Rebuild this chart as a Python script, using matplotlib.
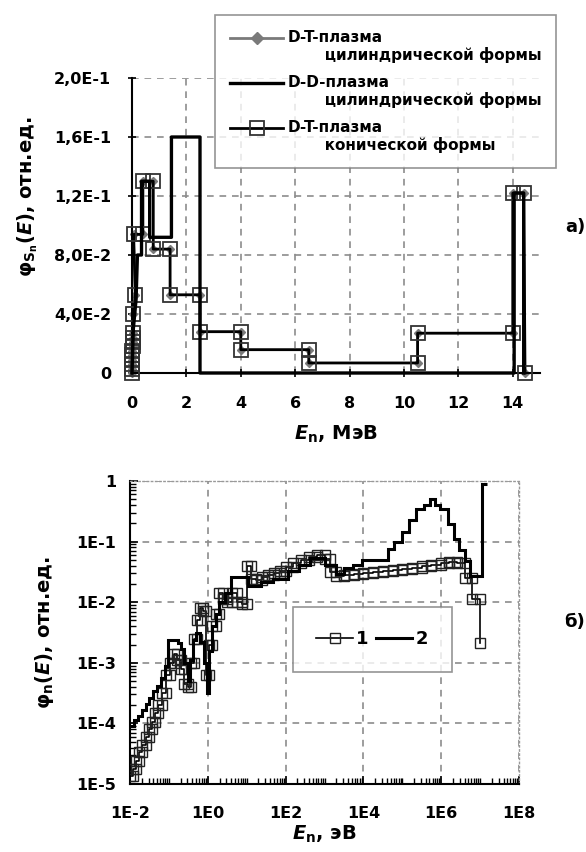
import numpy as np
import matplotlib
matplotlib.use("Agg")
import matplotlib.pyplot as plt
from matplotlib.ticker import FixedLocator, FuncFormatter, LogLocator, NullFormatter
from matplotlib.lines import Line2D
from matplotlib.legend_handler import HandlerLine2D

plt.rcParams['font.family'] = ['DejaVu Sans']
plt.rcParams['font.weight'] = 'bold'
plt.rcParams['axes.labelweight'] = 'bold'
plt.rcParams['mathtext.fontset'] = 'custom'
plt.rcParams['mathtext.rm'] = 'DejaVu Sans:bold'
plt.rcParams['mathtext.it'] = 'DejaVu Sans:italic:bold'
plt.rcParams['mathtext.bf'] = 'DejaVu Sans:bold'

# ---------------- data: panel a) (MeV, rel. units) ----------------
dt_con_E = [0.0, 0.0, 0.0, 0.01, 0.01, 0.01, 0.02, 0.02, 0.02, 0.03, 0.05, 0.12,
            0.06, 0.40, 0.40, 0.78, 0.78, 1.40, 1.40, 2.50, 2.50, 4.00, 4.00, 6.50,
            6.50, 10.50, 10.50, 14.00, 14.00, 14.40, 14.45]
dt_con_phi = [0.0, 0.003, 0.006, 0.009, 0.012, 0.015, 0.018, 0.021, 0.024, 0.027, 0.040, 0.053,
              0.094, 0.094, 0.130, 0.130, 0.084, 0.084, 0.053, 0.053, 0.028, 0.028, 0.0158, 0.0158,
              0.0068, 0.0068, 0.027, 0.027, 0.122, 0.122, 0.0]
dt_cyl_E = list(dt_con_E)
dt_cyl_phi = list(dt_con_phi)
dd_E = [0.0, 0.05, 0.15, 0.20, 0.35, 0.35, 0.65, 0.65, 1.45, 1.45, 2.50, 2.50, 14.05, 14.05, 14.40, 14.40]
dd_phi = [0.0, 0.030, 0.050, 0.080, 0.080, 0.130, 0.130, 0.092, 0.092, 0.160, 0.160, 0.0, 0.0, 0.122, 0.122, 0.0]

top_xticks = [0, 2, 4, 6, 8, 10, 12, 14]
top_yticks = [0.0, 0.04, 0.08, 0.12, 0.16, 0.20]
top_ylabels = ["0", "4,0E-2", "8,0E-2", "1,2E-1", "1,6E-1", "2,0E-1"]
legend_a = ["D-T-плазма\n       цилиндрической формы",
            "D-D-плазма\n       цилиндрической формы",
            "D-T-плазма\n       конической формы"]

# ---------------- data: panel б) (log10 E [eV], log10 phi) ----------------
s1_logE_edges = [-2.0, -1.92, -1.84, -1.76, -1.68, -1.6, -1.52, -1.44, -1.36, -1.28, -1.18, -1.08,
                 -0.98, -0.88, -0.78, -0.7, -0.62, -0.52, -0.44, -0.36, -0.28, -0.2, -0.12, -0.04,
                 0.04, 0.12, 0.2, 0.3, 0.4, 0.5, 0.62, 0.75, 0.88, 1.0, 1.12, 1.25, 1.4, 1.55,
                 1.7, 1.85, 2.0, 2.2, 2.4, 2.6, 2.8, 3.0, 3.15, 3.3, 3.5, 3.75, 4.0, 4.25, 4.5,
                 4.75, 5.0, 5.25, 5.5, 5.75, 6.0, 6.2, 6.4, 6.6, 6.8, 7.0]
s1_logphi = [-4.87, -4.75, -4.62, -4.48, -4.36, -4.22, -4.10, -3.97, -3.83, -3.70, -3.50, -3.20,
             -3.00, -2.85, -2.95, -3.10, -3.35, -3.40, -3.00, -2.60, -2.30, -2.10, -2.15, -3.20,
             -2.70, -2.40, -2.20, -1.85, -1.95, -2.00, -1.85, -2.00, -2.03, -1.40, -1.62, -1.64,
             -1.58, -1.55, -1.52, -1.48, -1.42, -1.36, -1.30, -1.25, -1.22, -1.28, -1.50, -1.56,
             -1.55, -1.53, -1.52, -1.50, -1.48, -1.47, -1.45, -1.43, -1.41, -1.38, -1.35, -1.33,
             -1.36, -1.60, -1.95]
s1_last_logphi = -2.68

s2_logE_edges = [-2.0, -1.9, -1.8, -1.7, -1.6, -1.5, -1.4, -1.3, -1.2, -1.1, -1.02, -0.77, -0.68,
                 -0.6, -0.52, -0.45, -0.38, -0.3, -0.2, -0.1, -0.03, 0.03, 0.1, 0.2, 0.3, 0.45,
                 0.6, 1.04, 1.38, 1.67, 2.05, 2.34, 2.63, 3.01, 3.3, 3.49, 3.73, 3.97, 4.26, 4.64,
                 4.79, 4.98, 5.17, 5.36, 5.55, 5.70, 5.84, 5.98, 6.18, 6.32, 6.46, 6.61, 6.75,
                 7.04, 7.18]
s2_logphi = [-4.05, -3.95, -3.88, -3.78, -3.68, -3.58, -3.47, -3.38, -3.25, -3.05, -2.62, -2.67,
             -2.78, -3.00, -3.30, -2.95, -2.62, -2.50, -2.65, -3.00, -3.50, -2.80, -2.40, -2.20,
             -2.00, -1.85, -1.58, -1.74, -1.66, -1.61, -1.48, -1.38, -1.27, -1.38, -1.53, -1.43,
             -1.38, -1.30, -1.30, -1.12, -1.01, -0.84, -0.64, -0.47, -0.40, -0.29, -0.40, -0.47,
             -0.71, -0.95, -1.14, -1.32, -1.56, -0.055]
bot_xticks = [1e-2, 1e0, 1e2, 1e4, 1e6, 1e8]
bot_xlabels = ["1E-2", "1E0", "1E2", "1E4", "1E6", "1E8"]
bot_yticks = [1e-5, 1e-4, 1e-3, 1e-2, 1e-1, 1e0]
bot_ylabels = ["1E-5", "1E-4", "1E-3", "1E-2", "1E-1", "1"]
legend_b = ["1", "2"]

# ---------------- figure ----------------
W, H = 586, 852
fig = plt.figure(figsize=(W / 100, H / 100), dpi=100)
fig.patch.set_facecolor('white')

def fx(px):
    return px / W

def fy(py):
    return 1 - py / H

TICK_FS = 11.5
LAB_FS = 14
grid_kw = dict(color='#8c8c8c', linestyle=(0, (4, 3.5)), linewidth=1.2)


class FirstLineHandler(HandlerLine2D):
    """Place the legend handle level with the first line of a two-line label."""
    def __init__(self, shift=6.5, **kw):
        super().__init__(**kw)
        self.shift = shift

    def create_artists(self, legend, orig_handle, xdescent, ydescent, width, height,
                       fontsize, trans):
        return super().create_artists(legend, orig_handle, xdescent, ydescent - 2 * self.shift,
                                      width, height, fontsize, trans)


# ---- panel a)
ax1 = fig.add_axes([fx(132), fy(373), fx(540) - fx(132), fy(78) - fy(373)])
ax1.set_xlim(0, 15)
ax1.set_ylim(0, 0.2)
ax1.plot(dt_cyl_E, dt_cyl_phi, color='#7a7a7a', lw=1.5, marker='D', ms=4.5, mfc='#7a7a7a',
         mec='#7a7a7a', zorder=2.5, clip_on=False)
ax1.plot(dt_con_E, dt_con_phi, color='black', lw=2.0, marker='s', ms=10, mfc='none',
         mec='#333333', mew=1.3, zorder=3, clip_on=False)
ax1.plot(dd_E, dd_phi, color='black', lw=2.4, zorder=4, clip_on=False)
ax1.xaxis.set_major_locator(FixedLocator(top_xticks))
ax1.yaxis.set_major_locator(FixedLocator(top_yticks))
ax1.yaxis.set_major_formatter(FuncFormatter(
    lambda v, p: top_ylabels[int(np.argmin([abs(v - t) for t in top_yticks]))]))
ax1.grid(True, **grid_kw)
ax1.set_axisbelow(True)
for s in ('top', 'right'):
    ax1.spines[s].set_visible(False)
for s in ('left', 'bottom'):
    ax1.spines[s].set_linewidth(1.5)
ax1.tick_params(axis='both', direction='inout', length=6, width=1.2, labelsize=TICK_FS)
ax1.tick_params(axis='y', pad=12)
ax1.tick_params(axis='x', pad=13.5)
ax1.set_xlabel(r'$E$$_\mathrm{n}$, МэВ', fontsize=LAB_FS, fontweight='bold', labelpad=9)
ax1.set_ylabel(r'φ$_{\mathrm{S}_\mathrm{n}}$($E$), отн.ед.', fontsize=LAB_FS, fontweight='bold')
ax1.yaxis.set_label_coords(-0.225, 0.597)

h_cyl = Line2D([], [], color='#7a7a7a', lw=2.0, marker='D', ms=6, mfc='#7a7a7a', mec='#7a7a7a')
h_dd = Line2D([], [], color='black', lw=2.4)
h_con = Line2D([], [], color='black', lw=2.0, marker='s', ms=10, mfc='none', mec='#333333', mew=1.3)
hm = {h: FirstLineHandler(shift=6.5) for h in (h_cyl, h_dd, h_con)}
leg1 = fig.legend([h_cyl, h_dd, h_con], legend_a, loc='upper right', handler_map=hm,
                  bbox_to_anchor=(fx(556), fy(15)), bbox_transform=fig.transFigure,
                  fontsize=11, frameon=True, fancybox=False, edgecolor='#7a7a7a',
                  handlelength=3.5, handletextpad=0.3, labelspacing=0.75, borderpad=0.95,
                  borderaxespad=0)
leg1.get_frame().set_linewidth(1.2)

fig.text(fx(585), fy(227), 'a)', fontsize=13, ha='right', va='center')

# ---- panel б)
ax2 = fig.add_axes([fx(130), fy(784), fx(519) - fx(130), fy(481) - fy(784)])
ax2.set_xscale('log')
ax2.set_yscale('log')
ax2.set_xlim(1e-2, 1e8)
ax2.set_ylim(1e-5, 1e0)

e1 = 10.0 ** np.array(s1_logE_edges)
p1 = 10.0 ** np.array(s1_logphi)
x1 = np.append(np.column_stack([e1[:-1], e1[1:]]).ravel(), e1[-1])
y1 = np.append(np.repeat(p1, 2), 10.0 ** s1_last_logphi)
ax2.plot(x1, y1, color='black', lw=1.2, marker='s', ms=7, mfc='none', mec='#222222', mew=1.0,
         zorder=3)
ax2.stairs(10.0 ** np.array(s2_logphi), 10.0 ** np.array(s2_logE_edges), baseline=None,
           color='black', lw=2.2, zorder=4)

ax2.xaxis.set_major_locator(FixedLocator(bot_xticks))
ax2.xaxis.set_major_formatter(FuncFormatter(
    lambda v, p: bot_xlabels[int(np.argmin([abs(np.log10(v) - np.log10(t)) for t in bot_xticks]))]))
ax2.xaxis.set_minor_locator(LogLocator(base=10, subs=np.arange(1, 10), numticks=20))
ax2.xaxis.set_minor_formatter(NullFormatter())
ax2.yaxis.set_major_locator(FixedLocator(bot_yticks))
ax2.yaxis.set_major_formatter(FuncFormatter(
    lambda v, p: bot_ylabels[int(np.argmin([abs(np.log10(v) - np.log10(t)) for t in bot_yticks]))]))
ax2.yaxis.set_minor_locator(LogLocator(base=10, subs=np.arange(2, 10), numticks=20))
ax2.yaxis.set_minor_formatter(NullFormatter())
ax2.grid(True, which='major', **grid_kw)
ax2.set_axisbelow(True)
for s in ('top', 'right'):
    ax2.spines[s].set_linestyle((0, (1, 2)))
    ax2.spines[s].set_color('#999999')
    ax2.spines[s].set_linewidth(1.0)
for s in ('left', 'bottom'):
    ax2.spines[s].set_linewidth(1.5)
ax2.tick_params(axis='both', which='major', direction='in', length=6, width=1.2, labelsize=TICK_FS)
ax2.tick_params(axis='both', which='minor', direction='in', length=4, width=1.0)
ax2.tick_params(axis='y', which='major', pad=10)
ax2.tick_params(axis='x', which='major', pad=16)
ax2.set_xlabel(r'$E$$_\mathrm{n}$, эВ', fontsize=LAB_FS, fontweight='bold', labelpad=2)
ax2.set_ylabel(r'φ$_\mathrm{n}$($E$), отн.ед.', fontsize=LAB_FS, fontweight='bold')
ax2.yaxis.set_label_coords(-0.19, 0.5)

h1 = Line2D([], [], color='black', lw=1.2, marker='s', ms=7, mfc='none', mec='#222222', mew=1.0)
h2 = Line2D([], [], color='black', lw=2.2)
leg2 = ax2.legend([h1, h2], legend_b, loc='upper left', ncol=2,
                  bbox_to_anchor=(fx(293), fy(607)), bbox_transform=fig.transFigure,
                  fontsize=13, frameon=True, fancybox=False, edgecolor='#7a7a7a',
                  handlelength=2.0, handletextpad=0.2, columnspacing=0.4, borderpad=1.3,
                  borderaxespad=0)
leg2.get_frame().set_linewidth(1.2)

fig.text(fx(585), fy(622), 'б)', fontsize=13, ha='right', va='center')

fig.savefig('out.png', dpi=100, facecolor='white')
